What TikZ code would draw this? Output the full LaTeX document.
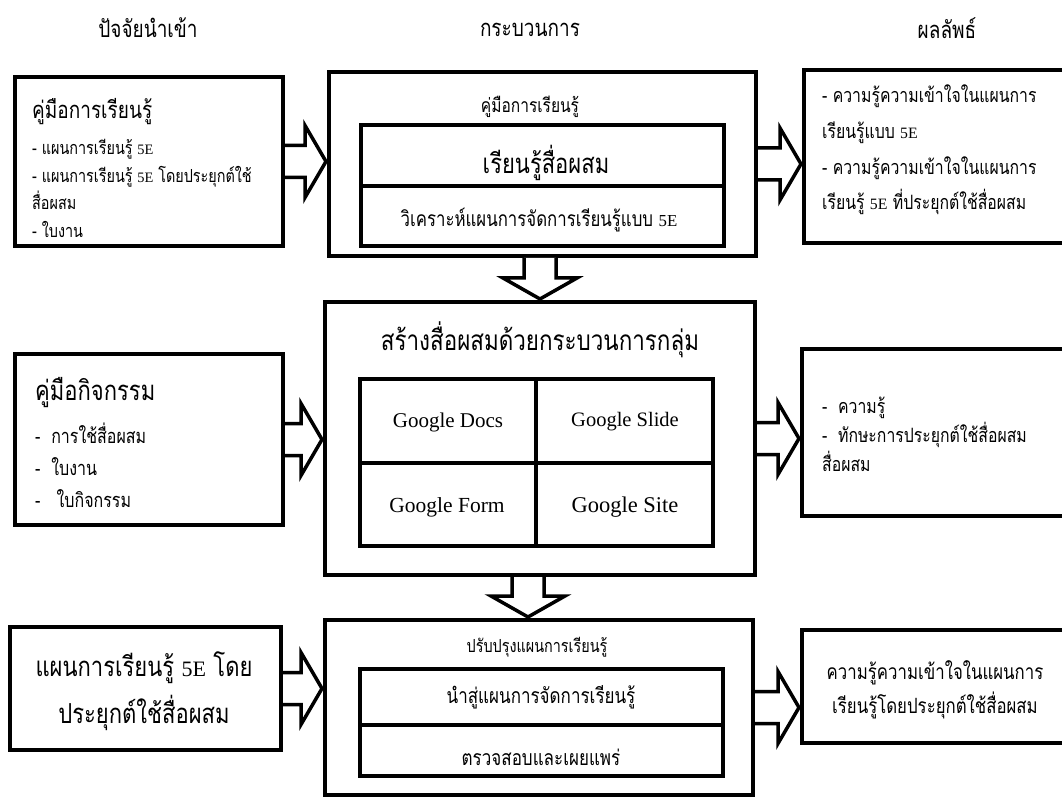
\documentclass[tikz,border=0pt]{standalone}
\usepackage{fontspec}
\setmainfont{Liberation Serif}
\newfontfamily\thai[Script=Thai, FakeStretch=0.8]{Loma}
\usetikzlibrary{calc}
\newcommand\FE{\scalebox{0.8}{\rmfamily 5E}}
\newcommand\fs[2]{\fontsize{#1}{#2}\selectfont}
\tikzset{
  box/.style={draw, line width=4pt, rectangle, inner sep=0pt, fill=white},
  barrow/.style={draw, line width=3.5pt, fill=white, line join=miter},
  txt/.style={inner sep=0pt, font=\thai},
}
\newcommand\harr[2]{%
  \draw[barrow] let \p1=(#1.east), \p2=(#2.west), \p3=(#1.center) in
    (\x1,\y3+16pt) -- (\x2-22pt,\y3+16pt) -- (\x2-22pt,\y3+36pt) -- (\x2-1pt,\y3)
    -- (\x2-22pt,\y3-36pt) -- (\x2-22pt,\y3-16pt) -- (\x1,\y3-16pt);}
\newcommand\varr[3]{%
  \draw[barrow] let \p1=(#1.south), \p2=(#2.north) in
    (#3pt-16pt,\y1) -- (#3pt-16pt,\y2+22pt) -- (#3pt-37pt,\y2+22pt) -- (#3pt,\y2+1pt)
    -- (#3pt+37pt,\y2+22pt) -- (#3pt+16pt,\y2+22pt) -- (#3pt+16pt,\y1);}
\begin{document}
\begin{tikzpicture}[x=1pt,y=-1pt]
\useasboundingbox (0,0) rectangle (1062,799);
\clip (0,0) rectangle (1062,799);
\fill[white] (0,0) rectangle (1062,799);

% headers
\node[txt, font=\thai\fs{23.75}{26}] (h1) at (148,28) {ปัจจัยนำเข้า};
\node[txt, font=\thai\fs{23.75}{26}] (h2) at (530,30) {กระบวนการ};
\node[txt, font=\thai\fs{23.75}{26}] (h3) at (947,28) {ผลลัพธ์};

% boxes
\node[box, minimum width=268pt, minimum height=169pt] (L1) at (149,161.5) {};
\node[box, minimum width=268pt, minimum height=171pt] (L2) at (149,439.5) {};
\node[box, minimum width=271pt, minimum height=123pt] (L3) at (145.5,688.5) {};
\node[box, minimum width=427pt, minimum height=184pt] (P1) at (542.5,164) {};
\node[box, minimum width=430pt, minimum height=273pt] (P2) at (540,438.5) {};
\node[box, minimum width=428pt, minimum height=175pt] (P3) at (539,707.5) {};
\node[box, minimum width=284pt, minimum height=173pt] (R1) at (946,156.5) {};
\node[box, minimum width=286pt, minimum height=167pt] (R2) at (945,432.5) {};
\node[box, minimum width=286pt, minimum height=113pt] (R3) at (945,686.5) {};

% inner boxes
\node[box, minimum width=363pt, minimum height=61pt] (I1a) at (542.5,155.5) {};
\node[box, minimum width=363pt, minimum height=60pt] (I1b) at (542.5,216) {};
\node[box, minimum width=176pt, minimum height=84pt] (G1) at (448,421) {};
\node[box, minimum width=177pt, minimum height=84pt] (G2) at (624.5,421) {};
\node[box, minimum width=176pt, minimum height=83pt] (G3) at (448,504.5) {};
\node[box, minimum width=177pt, minimum height=83pt] (G4) at (624.5,504.5) {};
\node[box, minimum width=363pt, minimum height=56pt] (I3a) at (541.5,697) {};
\node[box, minimum width=363pt, minimum height=51pt] (I3b) at (541.5,750.5) {};

% left texts
\node[txt, anchor=west, font=\thai\fs{23.75}{27}] (L1t) at (32,112) {คู่มือการเรียนรู้};
\node[txt, anchor=west, align=left, font=\thai\fs{18}{27.7}] (L1i) at (32,188.5)
  {- แผนการเรียนรู้ \FE\\- แผนการเรียนรู้ \FE{} โดยประยุกต์ใช้\\สื่อผสม\\- ใบงาน};
\node[txt, anchor=west, font=\thai\fs{27.5}{30}] (L2t) at (35,393) {คู่มือกิจกรรม};
\node[txt, anchor=west, align=left, font=\thai\fs{20}{32}] (L2i) at (35,465)
  {-\ \ การใช้สื่อผสม\\-\ \ ใบงาน\\-\ \ \ ใบกิจกรรม};
\node[txt, align=center, font=\thai\fs{27.5}{47}] (L3t) at (144,691.5)
  {แผนการเรียนรู้ \FE{} โดย\\ประยุกต์ใช้สื่อผสม};

% process texts
\node[txt, font=\thai\fs{19.4}{22}] (P1t) at (530,107) {คู่มือการเรียนรู้};
\node[txt, font=\thai\fs{27.5}{30}] (I1at) at (546,163) {เรียนรู้สื่อผสม};
\node[txt, font=\thai\fs{21}{24}] (I1bt) at (539,220) {วิเคราะห์แผนการจัดการเรียนรู้แบบ \FE};
\node[txt, font=\thai\fs{28}{31}] (P2t) at (540,340) {สร้างสื่อผสมด้วยกระบวนการกลุ่ม};
\node[txt, font=\rmfamily\fs{21}{24}] (G1t) at (448,422) {Google Docs};
\node[txt, font=\rmfamily\fs{20.5}{24}] (G2t) at (625,422) {Google Slide};
\node[txt, font=\rmfamily\fs{21.5}{24}] (G3t) at (447,507) {Google Form};
\node[txt, font=\rmfamily\fs{22.5}{24}] (G4t) at (625,507) {Google Site};
\node[txt, font=\thai\fs{18}{21}] (P3t) at (537,647) {ปรับปรุงแผนการเรียนรู้};
\node[txt, font=\thai\fs{21.25}{24}] (I3at) at (541,697) {นำสู่แผนการจัดการเรียนรู้};
\node[txt, font=\thai\fs{21.25}{24}] (I3bt) at (541,757) {ตรวจสอบและเผยแพร่};

% right texts
\node[txt, anchor=west, align=left, font=\thai\fs{19.75}{35.7}] (R1t) at (822,150)
  {- ความรู้ความเข้าใจในแผนการ\\เรียนรู้แบบ \FE\\- ความรู้ความเข้าใจในแผนการ\\เรียนรู้ \FE{} ที่ประยุกต์ใช้สื่อผสม};
\node[txt, anchor=west, align=left, font=\thai\fs{19.75}{29}] (R2t) at (822,434)
  {-\ \ ความรู้\\-\ \ ทักษะการประยุกต์ใช้สื่อผสม\\สื่อผสม};
\node[txt, align=center, font=\thai\fs{21}{34}] (R3t) at (935,690)
  {ความรู้ความเข้าใจในแผนการ\\เรียนรู้โดยประยุกต์ใช้สื่อผสม};

% block arrows
\harr{L1}{P1}
\harr{P1}{R1}
\harr{L2}{P2}
\harr{P2}{R2}
\harr{L3}{P3}
\harr{P3}{R3}
\varr{P1}{P2}{540}
\varr{P2}{P3}{528}
\end{tikzpicture}
\end{document}
